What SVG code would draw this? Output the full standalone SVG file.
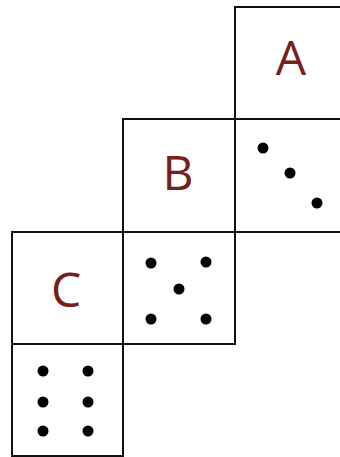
<svg xmlns="http://www.w3.org/2000/svg" width="340" height="457" viewBox="0 0 340 457">
<style>
.cell{fill:#fff;stroke:#111;stroke-width:2}
.lbl{font-family:"Open Sans","Noto Sans",sans-serif;font-size:48px;fill:#76201c;text-anchor:middle}
.dot{fill:#000}
</style>
<rect width="340" height="457" fill="#fff"/>
<g id="nodeA"><rect class="cell" x="235" y="7" width="112" height="112"/><text class="lbl" x="291" y="75">A</text></g>
<g id="dotsA"><rect class="cell" x="235" y="119" width="112" height="113"/>
<circle class="dot" cx="263" cy="148" r="5.5"/><circle class="dot" cx="290" cy="173" r="5.5"/><circle class="dot" cx="317" cy="203" r="5.5"/></g>
<g id="nodeB"><rect class="cell" x="123" y="119" width="112" height="113"/><text class="lbl" x="178" y="190">B</text></g>
<g id="dotsB"><rect class="cell" x="123" y="232" width="112" height="112"/>
<circle class="dot" cx="151" cy="263" r="5.5"/><circle class="dot" cx="206" cy="262" r="5.5"/><circle class="dot" cx="179" cy="289" r="5.5"/><circle class="dot" cx="151" cy="319" r="5.5"/><circle class="dot" cx="206" cy="319" r="5.5"/></g>
<g id="nodeC"><rect class="cell" x="12" y="232" width="111" height="112"/><text class="lbl" x="66" y="307">C</text></g>
<g id="dotsC"><rect class="cell" x="12" y="344" width="111" height="112"/>
<circle class="dot" cx="43" cy="371" r="5.5"/><circle class="dot" cx="88" cy="371" r="5.5"/><circle class="dot" cx="43" cy="402" r="5.5"/><circle class="dot" cx="88" cy="402" r="5.5"/><circle class="dot" cx="43" cy="431" r="5.5"/><circle class="dot" cx="88" cy="431" r="5.5"/></g>
<g id="connectors"/>
</svg>
